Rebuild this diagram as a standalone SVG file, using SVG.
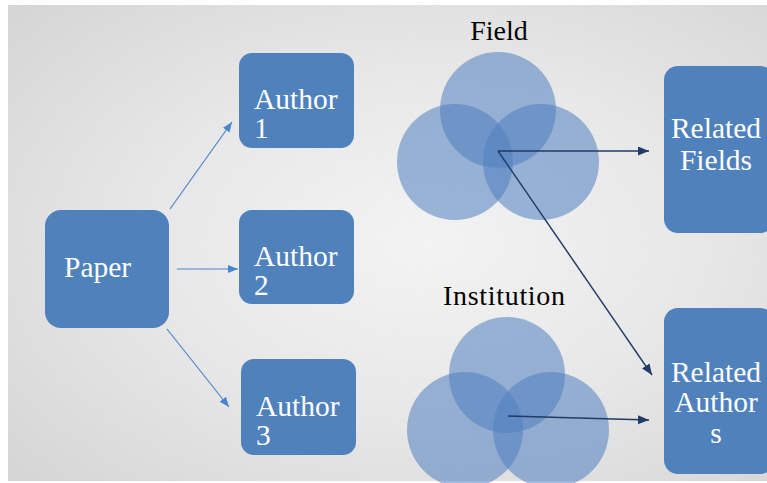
<svg xmlns="http://www.w3.org/2000/svg" width="767" height="483" viewBox="0 0 767 483">
<style>
.box{fill:#4f81bd}
.lbl{font-family:"Liberation Serif","Times New Roman",serif;font-size:29.5px;fill:#ffffff}
.ttl{font-family:"Liberation Serif","Times New Roman",serif;font-size:28px;fill:#000000}
.circ{fill:#5080c0;fill-opacity:0.55}
.lite{stroke:#4a86cf;stroke-width:1.2;fill:none}
.dark{stroke:#1f3b66;stroke-width:1.4;fill:none}
</style>
<defs>
<radialGradient id="bg" cx="0.55" cy="0.5" r="0.72">
<stop offset="0" stop-color="#f9f9f9"/>
<stop offset="0.5" stop-color="#ececec"/>
<stop offset="1" stop-color="#d8d8d8"/>
</radialGradient>
<filter id="grain" x="0" y="0" width="1" height="1">
<feTurbulence type="fractalNoise" baseFrequency="1.1" numOctaves="2" seed="3" result="n"/>
<feColorMatrix type="matrix" values="0 0 0 0 0.55  0 0 0 0 0.55  0 0 0 0 0.55  0 0 0 0.22 0"/>
</filter>
<marker id="ah-lite" markerUnits="userSpaceOnUse" markerWidth="12" markerHeight="10" refX="10" refY="4" orient="auto">
<path d="M0,0 L10,4 L0,8 Z" fill="#4a86cf"/>
</marker>
<marker id="ah-dark" markerUnits="userSpaceOnUse" markerWidth="14" markerHeight="10" refX="11" refY="4.5" orient="auto">
<path d="M0,0 L11,4.5 L0,9 Z" fill="#1f3b66"/>
</marker>
</defs>
<rect x="0" y="0" width="767" height="483" fill="#ffffff"/>
<rect x="8" y="5" width="759" height="476" fill="url(#bg)"/>
<rect x="8" y="5" width="759" height="476" filter="url(#grain)"/>

<g id="field-venn">
<circle class="circ" cx="498" cy="110" r="58"/>
<circle class="circ" cx="455" cy="162" r="58"/>
<circle class="circ" cx="541" cy="162" r="58"/>
<text class="ttl" x="499" y="40" text-anchor="middle">Field</text>
</g>
<g id="institution-venn">
<circle class="circ" cx="507" cy="375" r="58"/>
<circle class="circ" cx="465" cy="430" r="58"/>
<circle class="circ" cx="551" cy="430" r="58"/>
<text class="ttl" x="504" y="305" text-anchor="middle" textLength="122" lengthAdjust="spacing">Institution</text>
</g>

<g id="connectors">
<line class="lite" x1="170" y1="209" x2="232" y2="122" marker-end="url(#ah-lite)"/>
<line class="lite" x1="177" y1="269" x2="238" y2="269" marker-end="url(#ah-lite)"/>
<line class="lite" x1="167" y1="329" x2="229" y2="407" marker-end="url(#ah-lite)"/>
<line class="dark" x1="498" y1="151" x2="649" y2="151" marker-end="url(#ah-dark)"/>
<line class="dark" x1="498" y1="151" x2="652" y2="375" marker-end="url(#ah-dark)"/>
<line class="dark" x1="508" y1="416" x2="649" y2="420" marker-end="url(#ah-dark)"/>
</g>

<g id="paper">
<rect class="box" x="45" y="210" width="124" height="118" rx="16"/>
<text class="lbl" x="64" y="277">Paper</text>
</g>
<g id="author1">
<rect class="box" x="239" y="53" width="115" height="95" rx="13"/>
<text class="lbl" x="254" y="109">Author</text>
<text class="lbl" x="254" y="138">1</text>
</g>
<g id="author2">
<rect class="box" x="239" y="210" width="115" height="94" rx="13"/>
<text class="lbl" x="254" y="266">Author</text>
<text class="lbl" x="254" y="295">2</text>
</g>
<g id="author3">
<rect class="box" x="241" y="359" width="115" height="96" rx="13"/>
<text class="lbl" x="256" y="416">Author</text>
<text class="lbl" x="256" y="445">3</text>
</g>
<g id="related-fields">
<rect class="box" x="664" y="66" width="110" height="167" rx="14"/>
<text class="lbl" x="716" y="138" text-anchor="middle">Related</text>
<text class="lbl" x="716" y="170" text-anchor="middle">Fields</text>
</g>
<g id="related-authors">
<rect class="box" x="664" y="308" width="110" height="166" rx="14"/>
<text class="lbl" x="716" y="382" text-anchor="middle">Related</text>
<text class="lbl" x="716" y="412" text-anchor="middle">Author</text>
<text class="lbl" x="716" y="443" text-anchor="middle">s</text>
</g>
</svg>
